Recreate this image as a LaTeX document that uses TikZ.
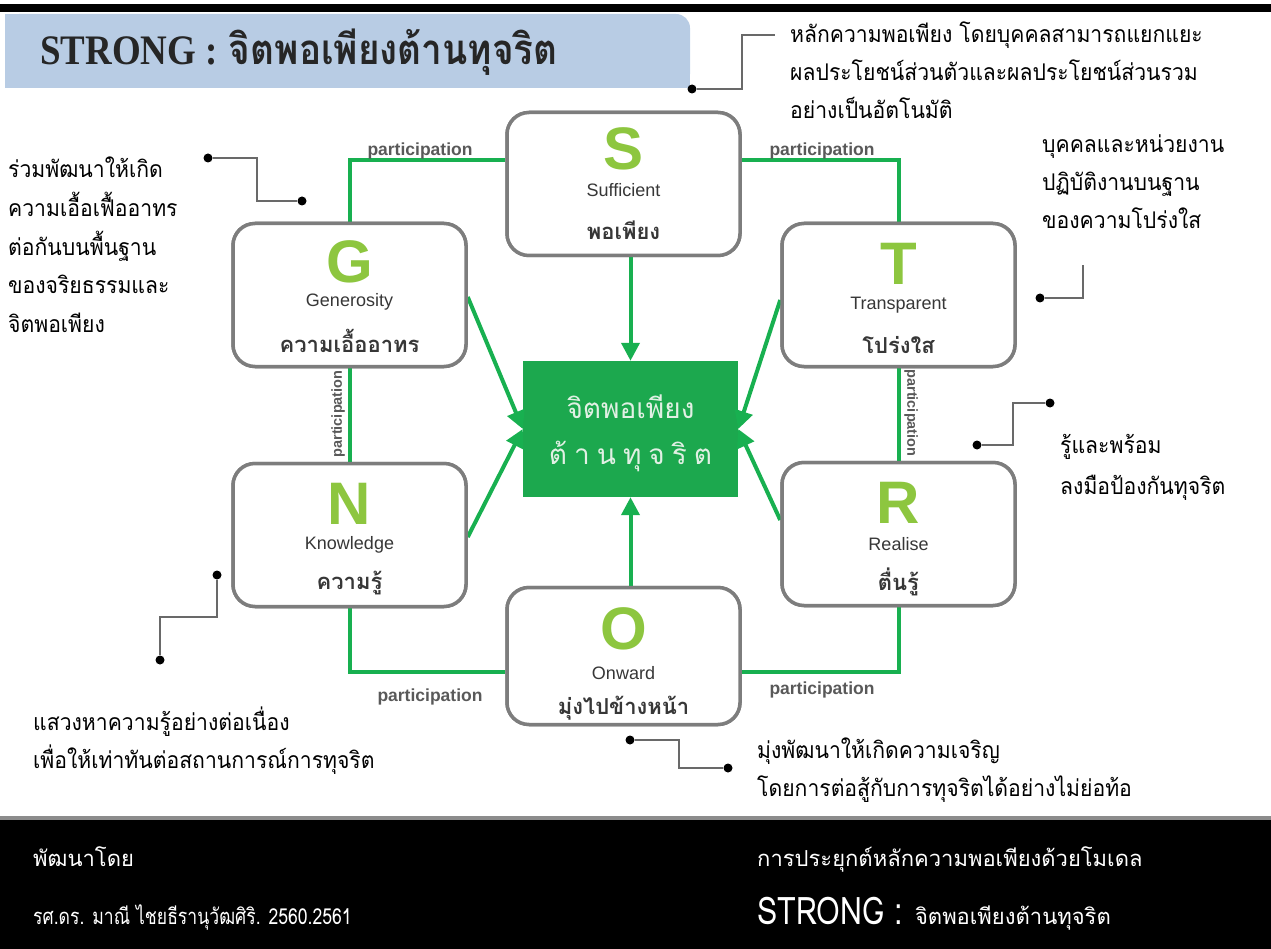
\documentclass[tikz,border=0pt]{standalone}
\usepackage{fontspec}
\usepackage{graphicx}
\usetikzlibrary{arrows.meta,calc}
\newfontfamily\thai[Script=Thai]{Loma}
\newfontfamily\thainote[Script=Thai,FakeStretch=0.92]{Loma}
\newfontfamily\thaicond[Script=Thai,FakeStretch=0.8]{Loma}
\newfontfamily\lsans{Liberation Sans}
\newfontfamily\lserif{Liberation Serif}
\definecolor{titlebg}{RGB}{184,204,228}
\definecolor{lgreen}{RGB}{141,198,63}
\definecolor{dgreen}{RGB}{24,176,80}
\definecolor{cgreen}{RGB}{28,168,78}
\definecolor{boxgray}{RGB}{125,125,125}
\definecolor{txtgray}{RGB}{55,55,55}
\definecolor{callgray}{RGB}{105,105,105}
\definecolor{ctext}{RGB}{225,240,228}
\tikzset{
  box/.style={draw=boxgray, line width=3.5pt, rounded corners=22pt, fill=white,
    minimum width=233pt, minimum height=143pt, inner sep=0},
  gline/.style={draw=dgreen, line width=4pt},
  garrow/.style={gline, -{Triangle[length=18pt,width=18pt]}},
  bigletter/.style={font=\lsans\bfseries\fontsize{60}{60}\selectfont, text=lgreen, inner sep=0},
  eng/.style={font=\lsans\fontsize{18}{18}\selectfont, text=txtgray, inner sep=0},
  thl/.style={font=\thai\bfseries\fontsize{22}{22}\selectfont, text=txtgray, inner sep=0},
  part/.style={font=\lsans\bfseries\fontsize{17.5}{17.5}\selectfont, text=black!65, inner sep=0},
  partv/.style={font=\lsans\bfseries\fontsize{14.5}{14.5}\selectfont, text=black!65, inner sep=0},
  callout/.style={draw=callgray, line width=2pt},
  calldot/.style={circle, fill=black, inner sep=0, minimum size=9pt},
  note/.style={font=\thainote\fontsize{23}{23}\selectfont, anchor=base west, inner sep=0},
  foot/.style={font=\thai\fontsize{22}{22}\selectfont, text=white, anchor=base west, inner sep=0},
}
\begin{document}
\begin{tikzpicture}[x=1pt,y=-1pt]
\useasboundingbox (0,0) rectangle (1271,949);
% top bar and title band
\fill[black] (0,4) rectangle (1271,12);
\fill[titlebg, rounded corners=14pt] (5,14) rectangle (690,88);
\fill[titlebg] (5,14) rectangle (60,88);
\fill[titlebg] (5,50) rectangle (690,88);
\node[anchor=west, inner sep=0, text=black!85] (title) at (40,52)
  {\scalebox{0.88}[1]{\fontsize{42}{42}\selectfont{\lserif\bfseries STRONG :} {\thai\bfseries จิตพอเพียงต้านทุจริต}}};
% footer
\fill[black!45] (0,816) rectangle (1271,820);
\fill[black] (0,820) rectangle (1271,949);

% boxes
\node[box] (S) at (623.5,184) {};
\node[box] (G) at (349.5,295) {};
\node[box] (T) at (898.5,295) {};
\node[box] (N) at (349.5,535) {};
\node[box] (R) at (898.5,534) {};
\node[box, minimum height=137pt] (O) at (623.5,656) {};
\node[fill=cgreen, minimum width=215pt, minimum height=136pt, inner sep=0] (C) at (630.5,429) {};

% green connectors
\coordinate (SL) at ($(S.west)+(0,-24)$);
\coordinate (SR) at ($(S.east)+(0,-24)$);
\draw[gline] (SL) -| (G.north);
\draw[gline] (SR) -| (T.north);
\draw[gline] (G.south) -- (N.north);
\draw[gline] (T.south) -- (R.north);
\coordinate (OL) at ($(O.west)+(0,16)$);
\coordinate (OR) at ($(O.east)+(0,16)$);
\draw[gline] (N.south) |- (OL);
\draw[gline] (R.south) |- (OR);
\coordinate (Gout) at ($(G.east)+(0,2)$);
\coordinate (Nout) at ($(N.east)+(0,2)$);
\coordinate (Tout) at ($(T.west)+(0,5)$);
\coordinate (Rout) at ($(R.west)+(0,-14)$);
\draw[garrow] (Gout) -- (C.west);
\draw[garrow] (Nout) -- (C.west);
\draw[garrow] (Tout) -- (C.east);
\draw[garrow] (Rout) -- (C.east);
\draw[garrow] (C.north |- S.south) -- (C.north);
\draw[garrow] (C.south |- O.north) -- (C.south);
% redraw boxes on top of line ends
\node[box] at (S) {};
\node[box] at (G) {};
\node[box] at (T) {};
\node[box] at (N) {};
\node[box] at (R) {};
\node[box, minimum height=137pt] at (O) {};

% participation labels
\node[part] (p1) at (420,151) {participation};
\node[part] (p2) at (822,151) {participation};
\node[partv, rotate=90] (p3) at (338,414) {participation};
\node[partv, rotate=-90] (p4) at (911,413) {participation};
\node[part] (p5) at (430,697) {participation};
\node[part] (p6) at (822,690) {participation};

% box contents
\node[bigletter] (Sa) at ($(S)+(0,-35)$) {S};
\node[eng] (Sb) at ($(S)+(0,6)$) {Sufficient};
\node[thl] (Sc) at ($(S)+(0,46)$) {พอเพียง};
\node[bigletter] (Ga) at ($(G)+(0,-33)$) {G};
\node[eng] (Gb) at ($(G)+(0,7)$) {Generosity};
\node[thl] (Gc) at ($(G)+(0,46)$) {ความเอื้ออาทร};
\node[bigletter] (Ta) at ($(T)+(0,-31)$) {T};
\node[eng] (Tb) at ($(T)+(0,10)$) {Transparent};
\node[thl] (Tc) at ($(T)+(0,50)$) {โปร่งใส};
\node[bigletter] (Ra) at ($(R)+(0,-31)$) {R};
\node[eng] (Rb) at ($(R)+(0,10)$) {Realise};
\node[thl] (Rc) at ($(R)+(0,48)$) {ตื่นรู้};
\node[bigletter] (Na) at ($(N)+(0,-31)$) {N};
\node[eng] (Nb) at ($(N)+(0,10)$) {Knowledge};
\node[thl] (Nc) at ($(N)+(0,48)$) {ความรู้};
\node[bigletter] (Oa) at ($(O)+(0,-27)$) {O};
\node[eng] (Ob) at ($(O)+(0,17)$) {Onward};
\node[thl] (Oc) at ($(O)+(0,52)$) {มุ่งไปข้างหน้า};
\node[font=\thai\fontsize{28}{28}\selectfont, text=ctext, inner sep=0] (Ca) at ($(C)+(0,-22)$) {จิตพอเพียง};
\node[font=\thai\fontsize{28}{28}\selectfont, text=ctext, inner sep=0] (Cb) at ($(C)+(0,27)$)
  {ต้\hspace{7pt}า\hspace{7pt}น\hspace{7pt}ทุ\hspace{7pt}จ\hspace{7pt}ริ\hspace{7pt}ต};

% callouts
\node[calldot] (d1) at (692,89) {};
\coordinate (e1) at (775,35);
\draw[callout] (d1) -- (742,89) -- (742,35) -- (e1);
\node[calldot] (d2) at (208,158) {};
\node[calldot] (d3) at (302,201) {};
\draw[callout] (d2) -| (257,201) -- (d3);
\node[calldot] (d4) at (1040,298) {};
\coordinate (e4) at (1083,265);
\draw[callout] (d4) -| (e4);
\node[calldot] (d5) at (1050,403) {};
\node[calldot] (d6) at (977,445) {};
\draw[callout] (d5) -| (1013,445) -- (d6);
\node[calldot] (d7) at (217,575) {};
\node[calldot] (d8) at (160,660) {};
\draw[callout] (d7) |- (160,617) -- (d8);
\node[calldot] (d9) at (630,740) {};
\node[calldot] (d10) at (728,768) {};
\draw[callout] (d9) -| (679,768) -- (d10);

% notes
\node[note] (n1a) at (790,43) {หลักความพอเพียง โดยบุคคลสามารถแยกแยะ};
\node[note] (n1b) at (790,81) {ผลประโยชน์ส่วนตัวและผลประโยชน์ส่วนรวม};
\node[note] (n1c) at (790,119) {อย่างเป็นอัตโนมัติ};
\node[note] (n2a) at (8,178) {ร่วมพัฒนาให้เกิด};
\node[note] (n2b) at (8,217) {ความเอื้อเฟื้ออาทร};
\node[note] (n2c) at (8,256) {ต่อกันบนพื้นฐาน};
\node[note] (n2d) at (8,294) {ของจริยธรรมและ};
\node[note] (n2e) at (8,333) {จิตพอเพียง};
\node[note] (n3a) at (1042,153) {บุคคลและหน่วยงาน};
\node[note] (n3b) at (1042,191) {ปฏิบัติงานบนฐาน};
\node[note] (n3c) at (1042,229) {ของความโปร่งใส};
\node[note] (n4a) at (1060,453) {รู้และพร้อม};
\node[note] (n4b) at (1060,494) {ลงมือป้องกันทุจริต};
\node[note] (n5a) at (33,730) {แสวงหาความรู้อย่างต่อเนื่อง};
\node[note] (n5b) at (33,768) {เพื่อให้เท่าทันต่อสถานการณ์การทุจริต};
\node[note] (n6a) at (757,758) {มุ่งพัฒนาให้เกิดความเจริญ};
\node[note] (n6b) at (757,796) {โดยการต่อสู้กับการทุจริตได้อย่างไม่ย่อท้อ};

% footer texts
\node[foot] (f1) at (33,866) {พัฒนาโดย};
\node[foot, font=\thaicond\fontsize{22}{22}\selectfont] (f2) at (33,924) {รศ.ดร. มาณี ไชยธีรานุวัฒศิริ. 2560.2561};
\node[foot] (f3) at (757,866) {การประยุกต์หลักความพอเพียงด้วยโมเดล};
\node[foot] (f4) at (757,924) {{\thaicond\fontsize{38}{38}\selectfont STRONG :}\hspace{12pt}จิตพอเพียงต้านทุจริต};
\end{tikzpicture}
\end{document}
